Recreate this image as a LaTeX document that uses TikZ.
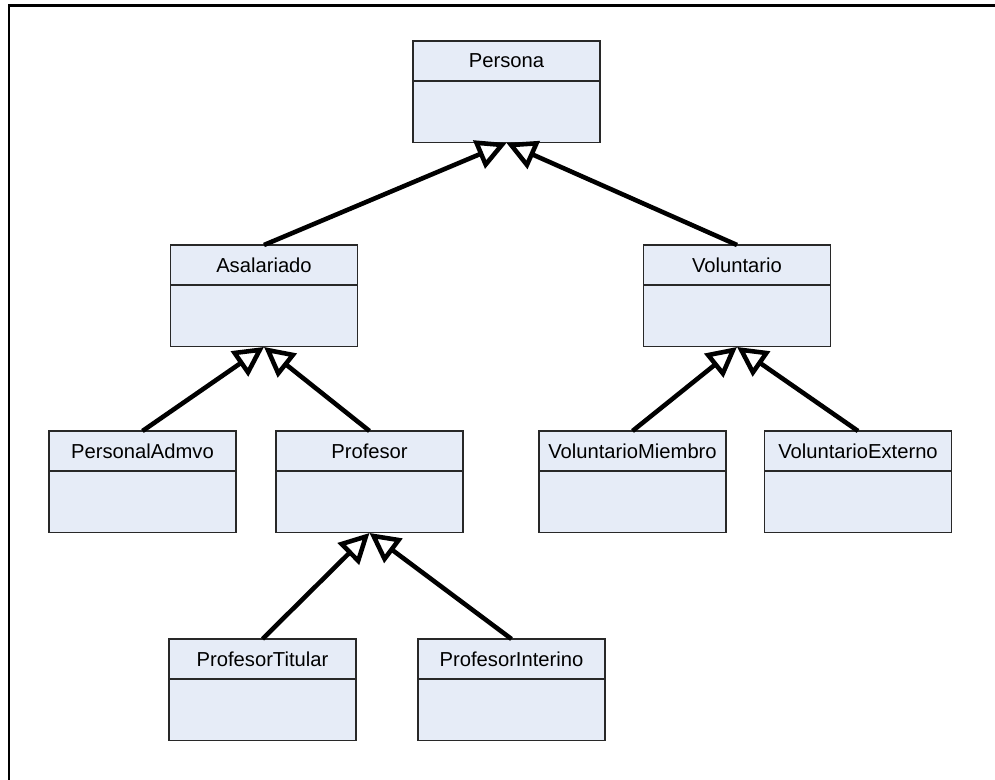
\documentclass[tikz,border=0pt]{standalone}
\usepackage{fontspec}
\setmainfont{Liberation Sans}
\usetikzlibrary{positioning,arrows.meta}

\definecolor{umlfill}{RGB}{230,236,247}
\definecolor{umlline}{RGB}{40,40,40}

\tikzset{
  classhead/.style={draw=umlline, fill=umlfill, line width=0.6pt, inner sep=0pt,
    outer sep=0pt, minimum width=3.74cm, minimum height=0.8cm, anchor=north,
    font=\fontsize{11.5}{13}\selectfont},
  classbody/.style={draw=umlline, fill=umlfill, line width=0.6pt, inner sep=0pt,
    outer sep=0pt, minimum width=3.74cm, minimum height=1.24cm},
  inherit/.style={line width=2.6pt,
    -{Triangle[open, length=17pt, width=17pt, line width=2.6pt]}}
}

\begin{document}
\begin{tikzpicture}[x=0.02cm, y=0.02cm]

\useasboundingbox (0,0) rectangle (995,780);

% --- frame ---
\draw[line width=1.7pt] (9,0) -- (9,774.5) -- (995,774.5);

% --- classes: name/x/top/label ---
\foreach \name/\x/\y/\label in {persona/506.5/739/Persona,
                                asal/264/535/Asalariado,
                                volun/737/535/Voluntario,
                                admvo/142.5/349/PersonalAdmvo,
                                prof/369.5/349/Profesor,
                                vmiem/632.5/349/VoluntarioMiembro,
                                vext/858/349/VoluntarioExterno,
                                ptit/262.5/141/ProfesorTitular,
                                pint/511.5/141/ProfesorInterino} {
    \node[classhead] (\name) at (\x,\y) {\label};
    \node[classbody, below=0pt of \name] (\name-b) {};
}

% --- generalisations ---
\foreach \child/\parent in {asal/persona, volun/persona,
                            admvo/asal, prof/asal,
                            vmiem/volun, vext/volun,
                            ptit/prof, pint/prof} {
    \draw[inherit] (\child.north) -- (\parent-b.south);
}

\end{tikzpicture}
\end{document}
